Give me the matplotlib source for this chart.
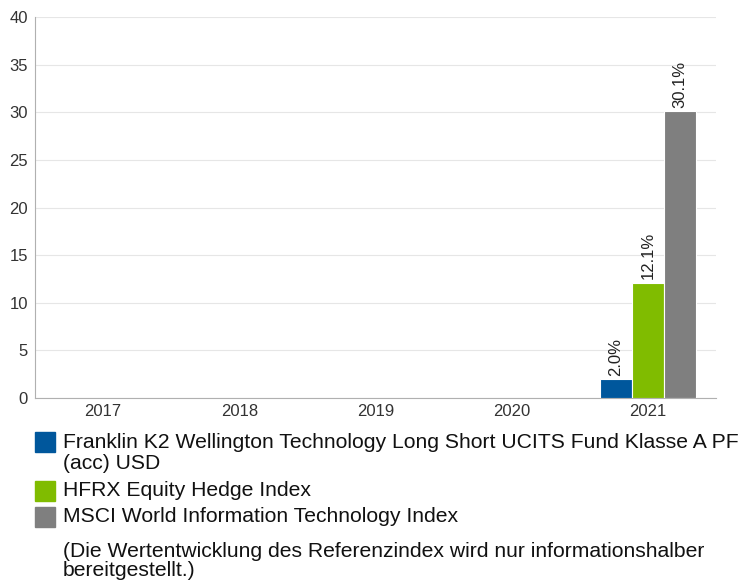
import matplotlib.pyplot as plt
import numpy as np
from matplotlib.patches import Rectangle

plt.rcParams['font.family'] = ['Liberation Sans', 'DejaVu Sans']

years = ['2017', '2018', '2019', '2020', '2021']
series_names = [
    'Franklin K2 Wellington Technology Long Short UCITS Fund Klasse A PF\n(acc) USD',
    'HFRX Equity Hedge Index',
    'MSCI World Information Technology Index',
]
fund_vals = [np.nan, np.nan, np.nan, np.nan, 2.0]
hfrx_vals = [np.nan, np.nan, np.nan, np.nan, 12.1]
msci_vals = [np.nan, np.nan, np.nan, np.nan, 30.1]
colors = ['#00579c', '#80bc00', '#7f7f7f']

fig = plt.figure(figsize=(7.44, 5.84), dpi=100)
ax = fig.add_axes([35 / 744, 1 - 398 / 584, 681 / 744, 381 / 584])

x = np.arange(len(years))
w = 0.235
for i, (vals, c) in enumerate(zip([fund_vals, hfrx_vals, msci_vals], colors)):
    pos = x + (i - 1) * w
    ax.bar(pos, vals, width=w, color=c, edgecolor='white', linewidth=0.8, zorder=3)
    for p, v in zip(pos, vals):
        if not np.isnan(v):
            ax.text(p, v + 0.35, f'{v:.1f}%', rotation=90, ha='center', va='bottom',
                    fontsize=12, color='#222222')

ax.set_xlim(-0.5, len(years) - 0.5)
ax.set_ylim(0, 40)
ax.set_yticks(range(0, 41, 5))
ax.set_xticks(x)
ax.set_xticklabels(years)
ax.tick_params(axis='both', length=0, labelsize=12, colors='#333333')
ax.tick_params(axis='y', pad=5)
ax.tick_params(axis='x', pad=4)
ax.grid(axis='y', color='#e6e6e6', linewidth=0.8, zorder=0)
for s in ['top', 'right']:
    ax.spines[s].set_visible(False)
ax.spines['left'].set_color('#b0b0b0')
ax.spines['bottom'].set_color('#b0b0b0')

# legend drawn below the plot
legend_rows = [(432, 443), (481, 491), (507, 517)]
for (sq_top, txt_y), name, c in zip(legend_rows, series_names, colors):
    fig.patches.append(Rectangle((35 / 744, 1 - (sq_top + 20) / 584), 20 / 744, 20 / 584,
                                 transform=fig.transFigure, color=c))
    fig.text(63 / 744, 1 - (txt_y - 10) / 584, name, fontsize=15.2, va='top', ha='left',
             color='#111111', linespacing=1.12)

fig.text(63 / 744, 1 - 542 / 584,
         '(Die Wertentwicklung des Referenzindex wird nur informationshalber\nbereitgestellt.)',
         fontsize=15.2, va='top', ha='left', color='#111111', linespacing=1.02)

fig.savefig('out.png', dpi=100)
